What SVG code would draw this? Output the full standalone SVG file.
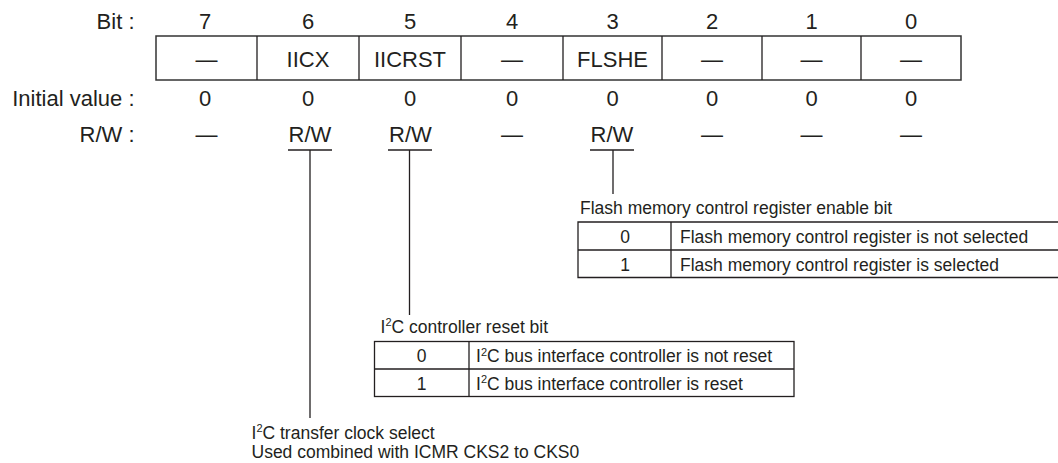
<svg xmlns="http://www.w3.org/2000/svg" width="1058" height="463" viewBox="0 0 1058 463">
<style>
text{font-family:"Liberation Sans",Arial,Helvetica,sans-serif;fill:#231f20}
.L{font-size:22px}
.S{font-size:17.5px}
.c{text-anchor:middle}
.e{text-anchor:end}
.sup{font-size:11px}
.ln{stroke:#231f20;stroke-width:1.3;fill:none}
.bx{stroke:#333;stroke-width:1.5;fill:#fff}
</style>
<rect width="1058" height="463" fill="#fff"/>
<g id="labels">
<text class="L e" x="134.5" y="29">Bit :</text>
<text class="L e" x="134.5" y="106">Initial value :</text>
<text class="L e" x="134.5" y="142">R/W :</text>
</g>
<g id="bitnumbers" class="L">
<text class="L c" x="205" y="29">7</text>
<text class="L c" x="308" y="29">6</text>
<text class="L c" x="410" y="29">5</text>
<text class="L c" x="512" y="29">4</text>
<text class="L c" x="612.5" y="29">3</text>
<text class="L c" x="712" y="29">2</text>
<text class="L c" x="811.5" y="29">1</text>
<text class="L c" x="911" y="29">0</text>
</g>
<g id="register">
<rect class="bx" x="156" y="36" width="805" height="44"/>
<path class="ln" d="M257 36V80M359 36V80M461 36V80M563 36V80M662 36V80M762 36V80M861 36V80" stroke-width="1.5"/>
<text class="L c" x="206.5" y="66.5">—</text>
<text class="L c" x="308" y="66.5">IICX</text>
<text class="L c" x="410" y="66.5">IICRST</text>
<text class="L c" x="512" y="66.5">—</text>
<text class="L c" x="612.5" y="66.5">FLSHE</text>
<text class="L c" x="712" y="66.5">—</text>
<text class="L c" x="811.5" y="66.5">—</text>
<text class="L c" x="911" y="66.5">—</text>
</g>
<g id="initial">
<text class="L c" x="205" y="106">0</text>
<text class="L c" x="308" y="106">0</text>
<text class="L c" x="410" y="106">0</text>
<text class="L c" x="512" y="106">0</text>
<text class="L c" x="612.5" y="106">0</text>
<text class="L c" x="712" y="106">0</text>
<text class="L c" x="811.5" y="106">0</text>
<text class="L c" x="911" y="106">0</text>
</g>
<g id="rw">
<text class="L c" x="206.5" y="142">—</text>
<text class="L c" x="310" y="142">R/W</text>
<text class="L c" x="410.5" y="142">R/W</text>
<text class="L c" x="512" y="142">—</text>
<text class="L c" x="612" y="142">R/W</text>
<text class="L c" x="712" y="142">—</text>
<text class="L c" x="811.5" y="142">—</text>
<text class="L c" x="911" y="142">—</text>
</g>
<g id="connectors">
<path class="ln" d="M288 150H332M310 150V418"/>
<path class="ln" d="M388 150H432M409.5 150V315"/>
<path class="ln" d="M590 150H634M613 150V194"/>
</g>
<g id="flshe-desc">
<text class="S" x="580" y="214">Flash memory control register enable bit</text>
<path class="ln" d="M1060 222H578V277.5H1060M578 250H1060M671 222V277.5" stroke-width="1.5"/>
<text class="S c" x="625" y="243">0</text>
<text class="S c" x="625" y="271">1</text>
<text class="S" x="680" y="243">Flash memory control register is not selected</text>
<text class="S" x="680" y="271">Flash memory control register is selected</text>
</g>
<g id="iicrst-desc">
<text class="S" x="380.5" y="332.5">I<tspan class="sup" dy="-6.5">2</tspan><tspan dy="6.5">C controller reset bit</tspan></text>
<rect x="374.5" y="341.5" width="419.5" height="55" class="ln" stroke-width="1.5"/>
<path class="ln" d="M374.5 369H794M469 341.5V396.5" stroke-width="1.5"/>
<text class="S c" x="421.5" y="362">0</text>
<text class="S c" x="421.5" y="389.5">1</text>
<text class="S" x="476" y="362">I<tspan class="sup" dy="-6.5">2</tspan><tspan dy="6.5">C bus interface controller is not reset</tspan></text>
<text class="S" x="476" y="389.5">I<tspan class="sup" dy="-6.5">2</tspan><tspan dy="6.5">C bus interface controller is reset</tspan></text>
</g>
<g id="iicx-desc">
<text class="S" x="251.5" y="438.5">I<tspan class="sup" dy="-6.5">2</tspan><tspan dy="6.5">C transfer clock select</tspan></text>
<text class="S" x="251.5" y="457.5">Used combined with ICMR CKS2 to CKS0</text>
</g>
</svg>
